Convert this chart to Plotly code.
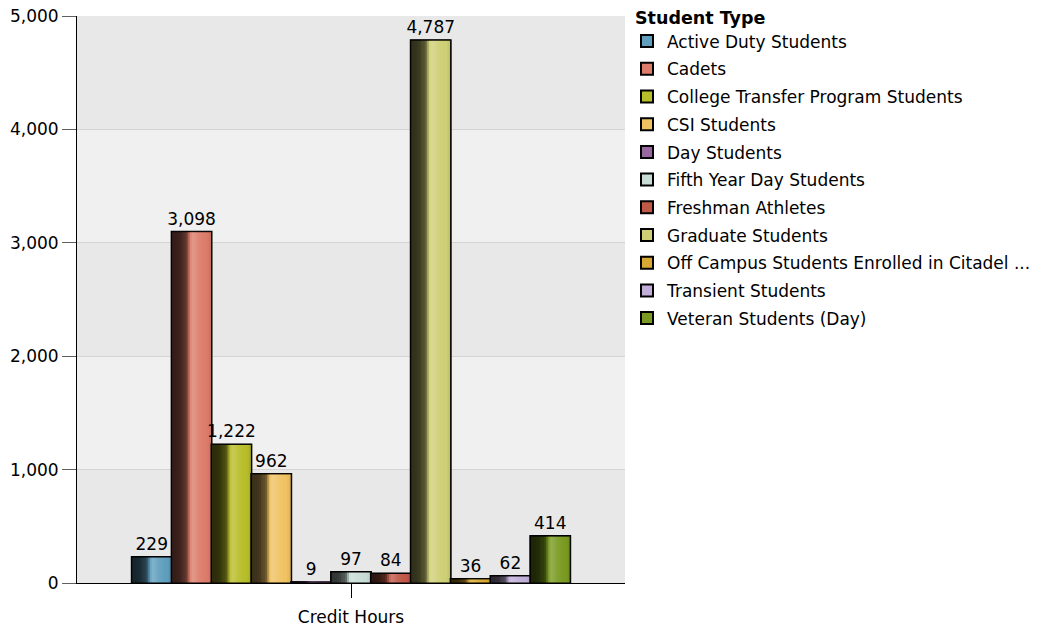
import plotly.graph_objects as go

categories = ["Credit Hours"]
series_names = [
    "Active Duty Students", "Cadets", "College Transfer Program Students",
    "CSI Students", "Day Students", "Fifth Year Day Students",
    "Freshman Athletes", "Graduate Students",
    "Off Campus Students Enrolled in Citadel ...", "Transient Students",
    "Veteran Students (Day)",
]
series_values = [229, 3098, 1222, 962, 9, 97, 84, 4787, 36, 62, 414]
series_colors = [
    "#5f9ebd", "#dc7c6a", "#b8bd2a", "#f0c262", "#9a68a0", "#c8dcd6",
    "#c05848", "#cfcf76", "#d8a832", "#c0aed8", "#7a9a22",
]
y_ticks = [0, 1000, 2000, 3000, 4000, 5000]

# shading profile across the bar (negative -> toward black, positive -> toward white)
shade_profile = [-0.76, -0.76, -0.75, -0.73, -0.71, -0.64, -0.61, -0.52, -0.22, 0.08,
                 0.2, 0.18, 0.12, 0.08, 0.05, 0.03, 0.0, 0.0, -0.03, -0.07]


def hex_to_rgb(h):
    h = h.lstrip("#")
    return [int(h[i:i + 2], 16) for i in (0, 2, 4)]


def shade(h, s):
    r = hex_to_rgb(h)
    if s < 0:
        r = [c * (1 + s) for c in r]
    else:
        r = [c + (255 - c) * s for c in r]
    return "rgb(%d,%d,%d)" % tuple(int(round(c)) for c in r)


n = len(series_values)
group_w = 0.8
w = group_w / n
ns = len(shade_profile)

fig = go.Figure()

for i, (name, val, col) in enumerate(zip(series_names, series_values, series_colors)):
    x0 = -group_w / 2 + i * w
    # base bar (carries the legend entry)
    fig.add_trace(go.Bar(
        x=categories, y=[val], name=name, legendgroup=name,
        offset=x0, width=w, marker=dict(color=col, line=dict(color="black", width=2)),
        showlegend=True, hoverinfo="skip",
    ))
    # shading strips
    for j, s in enumerate(shade_profile):
        fig.add_trace(go.Bar(
            x=categories, y=[val], legendgroup=name, showlegend=False,
            offset=x0 + j * w / ns, width=w / ns * (1.3 if j < ns - 1 else 1.0),
            marker=dict(color=shade(col, s), line=dict(width=0)),
            hoverinfo="skip",
        ))
    # outline + label
    fig.add_trace(go.Bar(
        x=categories, y=[val], legendgroup=name, showlegend=False, name=name,
        offset=x0, width=w,
        marker=dict(color="rgba(0,0,0,0)", line=dict(color="black", width=1)),
        text=[f"{val:,}"], textposition="outside", cliponaxis=False,
        constraintext="none",
        textfont=dict(size=17, color="black"),
    ))

# alternating background bands
for k in range(len(y_ticks) - 1):
    fig.add_shape(
        type="rect", xref="paper", yref="y", x0=0, x1=1,
        y0=y_ticks[k], y1=y_ticks[k + 1], layer="below", line=dict(width=0),
        fillcolor="#e8e8e8" if k % 2 == 0 else "#f0f0f0",
    )

fig.update_layout(
    width=1041, height=628,
    barmode="overlay",
    paper_bgcolor="white", plot_bgcolor="#e8e8e8",
    margin=dict(l=77, r=416, t=16, b=45),
    font=dict(family="DejaVu Sans", size=17, color="black"),
    showlegend=True,
    legend=dict(
        title=dict(text="<b>Student Type</b>", font=dict(size=17.5)),
        xref="container", yref="container",
        x=633 / 1041, xanchor="left", y=1 - 0.8 / 628, yanchor="top",
        font=dict(size=17), tracegroupgap=2.6, itemclick=False,
        indentation=-6, maxheight=600,
        bgcolor="rgba(0,0,0,0)",
    ),
    xaxis=dict(
        type="category", range=[-0.5, 0.5], showline=True, linecolor="black",
        linewidth=1, ticks="outside", ticklen=14, tickcolor="black",
        showgrid=False, tickfont=dict(size=17), automargin=False,
        ticklabelstandoff=5,
    ),
    yaxis=dict(
        range=[0, 5000], tickvals=y_ticks, tickformat=",d", showline=True,
        linecolor="black", linewidth=1, ticks="outside", ticklen=14,
        tickcolor="#606060", gridcolor="#d4d4d4", gridwidth=1,
        zeroline=False, tickfont=dict(size=17), automargin=False,
    ),
)

fig.write_html(
    "out.html",
    config={"displayModeBar": False},
    post_script="document.body.style.margin='0';document.body.style.overflow='hidden';",
)
